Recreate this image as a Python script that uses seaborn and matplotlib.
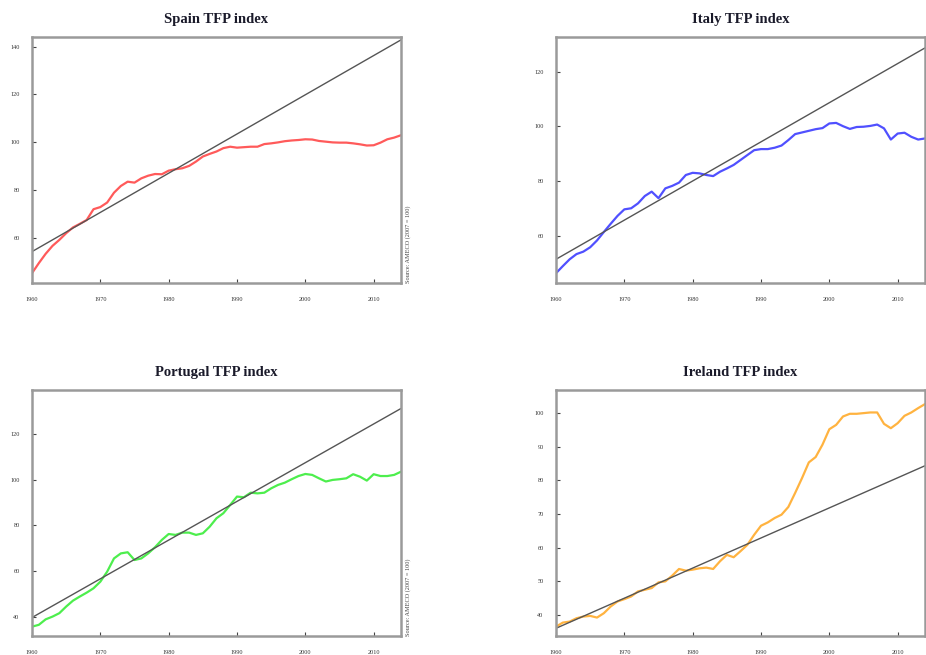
"""
TFP index for Spain, Italy, Portugal and Ireland with linear trend lines
"""
import numpy as np
import pandas as pd
import matplotlib
matplotlib.use('Agg')
import matplotlib.pyplot as plt
import seaborn as sns

years = list(range(1960, 2015))

spain_tfp = [45.4, 49.6, 53.5, 56.8, 59.3, 62.1, 64.5, 66.0, 67.6, 72.1,
             73.0, 74.9, 79.0, 81.8, 83.6, 83.2, 85.0, 86.1, 86.8, 86.7,
             88.2, 88.8, 89.2, 90.2, 92.0, 94.1, 95.2, 96.2, 97.6, 98.2,
             97.8, 98.0, 98.2, 98.2, 99.3, 99.6, 100.0, 100.5, 100.8, 101.0,
             101.3, 101.2, 100.6, 100.3, 100.0, 99.9, 99.9, 99.6, 99.2, 98.7,
             98.8, 99.9, 101.3, 102.0, 103.0]

italy_tfp = [46.2, 48.8, 51.3, 53.2, 54.1, 55.7, 58.2, 61.3, 64.3, 67.2,
             69.6, 70.0, 71.8, 74.5, 76.1, 73.7, 77.3, 78.2, 79.4, 82.2,
             83.0, 82.8, 82.2, 81.8, 83.4, 84.6, 85.9, 87.7, 89.5, 91.3,
             91.7, 91.7, 92.2, 93.0, 95.0, 97.2, 97.8, 98.4, 99.0, 99.4,
             101.1, 101.3, 100.1, 99.1, 99.8, 99.9, 100.2, 100.7, 99.3, 95.2,
             97.4, 97.7, 96.2, 95.2, 95.6]

portugal_tfp = [35.6, 36.4, 38.8, 40.0, 41.5, 44.4, 47.0, 48.8, 50.5, 52.4,
                55.3, 59.7, 65.5, 67.7, 68.2, 64.8, 65.5, 67.7, 70.4, 73.6,
                76.2, 75.8, 76.8, 76.8, 75.8, 76.5, 79.4, 83.1, 85.3, 88.9,
                92.6, 92.3, 94.3, 94.0, 94.3, 96.2, 97.7, 98.7, 100.2, 101.6,
                102.5, 102.1, 100.6, 99.2, 99.9, 100.2, 100.6, 102.4, 101.3, 99.6,
                102.4, 101.6, 101.6, 102.1, 103.5]

ireland_tfp = [36.4, 37.6, 37.9, 38.9, 39.4, 39.6, 39.1, 40.4, 42.4, 43.9,
               44.6, 45.4, 46.9, 47.4, 47.9, 49.6, 49.9, 51.6, 53.6, 53.1,
               53.4, 53.8, 54.0, 53.6, 55.9, 57.8, 57.1, 58.9, 60.8, 63.8,
               66.5, 67.5, 68.8, 69.8, 72.1, 76.3, 80.7, 85.4, 87.0, 90.7,
               95.3, 96.6, 99.1, 99.9, 99.9, 100.1, 100.3, 100.3, 96.9, 95.6,
               97.1, 99.3, 100.3, 101.6, 102.8]

# trend line end points (1960, 2014)
trend_years = [1960, 2014]
spain_trend = [54.4, 142.8]
italy_trend = [51.3, 128.8]
portugal_trend = [39.6, 131.2]
ireland_trend = [35.9, 84.4]

x_ticks = [1960, 1970, 1980, 1990, 2000, 2010]

panels = [
    # name, values, trend, colour, ylim, yticks, axes rect, source note
    ('Spain', spain_tfp, spain_trend, '#ff5a5a', (41.3, 144), [60, 80, 100, 120, 140],
     [32 / 926, 1 - 283 / 655, 369 / 926, 246 / 655], True),
    ('Italy', italy_tfp, italy_trend, '#5050ff', (42.6, 132.8), [60, 80, 100, 120],
     [556 / 926, 1 - 283 / 655, 369 / 926, 246 / 655], False),
    ('Portugal', portugal_tfp, portugal_trend, '#4dee4d', (31.5, 139.3), [40, 60, 80, 100, 120],
     [32 / 926, 1 - 636 / 655, 369 / 926, 246 / 655], True),
    ('Ireland', ireland_tfp, ireland_trend, '#ffb340', (33.6, 107), [40, 50, 60, 70, 80, 90, 100],
     [556 / 926, 1 - 636 / 655, 369 / 926, 246 / 655], False),
]

sns.set_theme(style='white')
plt.rcParams['font.family'] = ['Liberation Serif', 'DejaVu Serif']

fig = plt.figure(figsize=(9.26, 6.55), dpi=100)

for name, values, trend, colour, ylim, yticks, rect, source in panels:
    ax = fig.add_axes(rect)
    df = pd.DataFrame({'year': years, 'tfp': values})
    tdf = pd.DataFrame({'year': trend_years, 'tfp': trend})
    sns.lineplot(data=df, x='year', y='tfp', color=colour, linewidth=1.6, ax=ax)
    sns.lineplot(data=tdf, x='year', y='tfp', color='#555555', linewidth=1.0, ax=ax)
    ax.set_xlim(1960, 2014)
    ax.set_ylim(*ylim)
    ax.set_xticks(x_ticks)
    ax.set_xticklabels([str(t) for t in x_ticks])
    ax.set_yticks(yticks)
    ax.set_yticklabels([str(t) for t in yticks])
    ax.set_xlabel('')
    ax.set_ylabel('')
    ax.tick_params(axis='both', direction='in', length=3, width=0.8, color='#444444',
                   labelsize=4.5, labelcolor='#333333')
    ax.tick_params(axis='x', pad=10)
    ax.tick_params(axis='y', pad=9)
    ax.xaxis.set_ticks_position('bottom')
    ax.yaxis.set_ticks_position('left')
    for sp in ax.spines.values():
        sp.set_visible(True)
        sp.set_color('#9a9a9a')
        sp.set_linewidth(1.8)
    ax.set_title(f'{name} TFP index', fontsize=10.5, fontweight='bold', color='#1a1a2a', pad=10)
    if source:
        ax.text(1.012, 0.0, 'Source: AMECO (2007 = 100)', transform=ax.transAxes,
                rotation=90, fontsize=4.5, color='#444444', ha='left', va='bottom')

fig.savefig('out.png', dpi=100)
